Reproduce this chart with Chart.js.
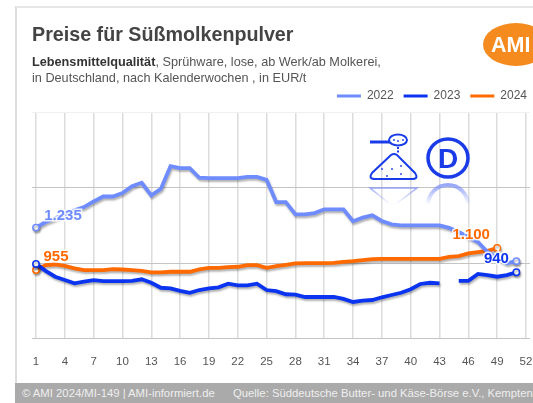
<!DOCTYPE html>
<html>
<head>
<meta charset="utf-8">
<script src="https://cdn.jsdelivr.net/npm/chart.js@4"></script>
<style>
  html, body { margin: 0; padding: 0; background: #fff; overflow: hidden; }
  #page { position: relative; width: 533px; height: 403px; overflow: hidden; font-family: "Liberation Sans", Arial, sans-serif; filter: blur(0.35px); }
  #frame { position: absolute; left: 15px; top: 6px; width: 530px; height: 400px; border-left: 2px solid #ddd; border-top: 2px solid #e6e6e6; }
  #chart { position: absolute; left: 0; top: 0; }
  #title { position: absolute; left: 32px; top: 23px; font-size: 19.7px; font-weight: bold; color: #444; white-space: nowrap; }
  #sub { position: absolute; left: 32px; top: 55px; font-size: 12.7px; line-height: 15.5px; color: #555; white-space: nowrap; }
  #sub b { color: #333; }
  #footer { position: absolute; left: 15px; top: 383px; width: 518px; height: 20px; background: #aaa; color: #eee; font-size: 11.3px; line-height: 20px; white-space: nowrap; }
  #footer span { position: absolute; top: 0; }
  #logo { position: absolute; left: 483px; top: 23px; width: 66px; height: 43px; border-radius: 50%; background: #f58a1f; }
  #logo span { position: absolute; left: 8px; top: 0; font-size: 21.5px; line-height: 44px; font-weight: bold; color: #fff; }
  #icons { position: absolute; left: 360px; top: 125px; }
</style>
</head>
<body>
<div id="page">
  <div id="frame"></div>
  <canvas id="chart" width="533" height="383"></canvas>
  <div id="title">Preise für Süßmolkenpulver</div>
  <div id="sub"><b>Lebensmittelqualität</b>, Sprühware, lose, ab Werk/ab Molkerei,<br>in Deutschland, nach Kalenderwochen , in EUR/t</div>
  <div id="logo"><span>AMI</span></div>
  <svg id="icons" width="112" height="80" viewBox="0 0 112 80">
    <defs>
      <linearGradient id="fade" x1="0" y1="0" x2="0" y2="1">
        <stop offset="0" stop-color="#7f92f5" stop-opacity="0.8"/>
        <stop offset="1" stop-color="#7f92f5" stop-opacity="0"/>
      </linearGradient>
    </defs>
    <g fill="none" stroke="#1a3ce8">
      <path d="M10 17 H30" stroke-width="3"/>
      <ellipse cx="38" cy="15" rx="9" ry="5.5" stroke-width="2"/>
      <path d="M38 22 V28" stroke-width="2" stroke-dasharray="2 1.5"/>
      <path d="M31 30 L12 48 Q8 54 15 54 H52 Q59 54 55 48 L37 30 Q34 28 31 30 Z" stroke-width="2"/>
      <ellipse cx="88" cy="33" rx="20" ry="19" stroke-width="3.5"/>
    </g>
    <g fill="#1a3ce8">
      <circle cx="34" cy="15" r="0.9"/><circle cx="38" cy="16" r="0.9"/><circle cx="43" cy="15" r="0.9"/>
      <circle cx="22" cy="44" r="0.9"/><circle cx="32" cy="44" r="0.9"/><circle cx="41" cy="41" r="0.9"/>
      <circle cx="27" cy="51" r="0.9"/><circle cx="41" cy="49" r="0.9"/>
    </g>
    <text x="88" y="43" text-anchor="middle" font-family="Liberation Sans" font-weight="bold" font-size="28" fill="#1a3ce8">D</text>
    <path d="M10 63 H57 L36 79 H30 Z" fill="none" stroke="url(#fade)" stroke-width="1.5"/>
    <path d="M68 80 A20 20 0 0 1 108 80" fill="none" stroke="url(#fade)" stroke-width="4"/>
  </svg>
  <div id="footer"><span style="left:7px">© AMI 2024/MI-149 | AMI-informiert.de</span><span style="left:218px">Quelle: Süddeutsche Butter- und Käse-Börse e.V., Kempten</span></div>
</div>
<script>
const weeks = [1,2,3,4,5,6,7,8,9,10,11,12,13,14,15,16,17,18,19,20,21,22,23,24,25,26,27,28,29,30,31,32,33,34,35,36,37,38,39,40,41,42,43,44,45,46,47,48,49,50,51,52];
const prices2022 = [1235,1272,1297,1323,1349,1371,1408,1441,1441,1463,1509,1532,1448,1492,1641,1628,1628,1565,1562,1562,1562,1562,1571,1571,1551,1404,1404,1323,1323,1331,1356,1356,1356,1277,1301,1316,1279,1257,1250,1250,1250,1250,1250,1233,1206,1173,1140,1074,1033,1000,1013,null];
const prices2023 = [995,949,910,888,866,877,888,881,881,881,883,893,870,837,833,817,804,822,833,840,864,853,853,864,822,815,794,791,776,776,776,776,763,743,752,756,774,789,804,827,862,870,866,null,883,883,929,921,910,921,940,null];
const prices2024 = [955,987,991,982,965,954,954,954,960,958,954,949,939,939,943,943,943,958,969,969,974,976,987,987,969,980,989,998,1000,1000,1000,1002,1009,1013,1020,1026,1028,1028,1028,1028,1028,1028,1028,1042,1046,1064,1073,1081,1100,null,null,null];

const color2022 = '#6f8cff';
const color2023 = '#0a34f0';
const color2024 = '#ff6a00';
const gridColor = '#dcdcdc';

// first and last point of each series get a hollow circle
function endPointRadius(ctx) {
  const vals = ctx.dataset.data;
  let last = vals.length - 1;
  while (vals[last] === null) last--;
  return ctx.dataIndex === 0 || ctx.dataIndex === last ? 3.2 : 0;
}

const lineShadow = {
  id: 'lineShadow',
  beforeDatasetDraw(chart) {
    const c = chart.ctx;
    c.save();
    c.shadowColor = 'rgba(0,0,0,0.3)';
    c.shadowBlur = 2;
    c.shadowOffsetX = 1;
    c.shadowOffsetY = 2;
  },
  afterDatasetDraw(chart) {
    chart.ctx.restore();
  }
};

// legend sits a bit further right than the plot padding allows
const legendShift = {
  id: 'legendShift',
  afterLayout(chart) {
    chart.legend.left += 7;
    chart.legend.right += 7;
  }
};

// value labels with white halo, positioned from the point of the series
const valueLabels = {
  id: 'valueLabels',
  afterDatasetsDraw(chart) {
    const c = chart.ctx;
    const items = [
      { ds: 0, i: 0, dx: 27, dy: -12, text: '1.235', color: color2022 },
      { ds: 2, i: 0, dx: 20, dy: -13, text: '955', color: color2024 },
      { ds: 2, i: 48, dx: -26, dy: -13, text: '1.100', color: color2024 },
      { ds: 1, i: 50, dx: -20, dy: -13, text: '940', color: color2023 }
    ];
    c.save();
    c.font = 'bold 15px "Liberation Sans"';
    c.textAlign = 'center';
    c.textBaseline = 'middle';
    items.forEach((it) => {
      const p = chart.getDatasetMeta(it.ds).data[it.i];
      c.lineWidth = 3;
      c.strokeStyle = 'rgba(255,255,255,0.85)';
      c.strokeText(it.text, p.x + it.dx, p.y + it.dy);
      c.fillStyle = it.color;
      c.fillText(it.text, p.x + it.dx, p.y + it.dy);
    });
    c.restore();
  }
};

function makeSeries(label, data, color) {
  return {
    label: label,
    data: data,
    borderColor: color,
    backgroundColor: color,
    borderWidth: 3.8,
    tension: 0,
    spanGaps: false,
    pointRadius: endPointRadius,
    pointBorderWidth: 1.5,
    pointBackgroundColor: '#fff',
    pointBorderColor: color
  };
}

new Chart(document.getElementById('chart'), {
  type: 'line',
  data: {
    labels: weeks,
    datasets: [
      makeSeries('2022', prices2022, color2022),
      makeSeries('2023', prices2023, color2023),
      makeSeries('2024', prices2024, color2024)
    ]
  },
  plugins: [lineShadow, legendShift, valueLabels],
  options: {
    responsive: false,
    animation: false,
    layout: { padding: { left: 32, right: 3, top: 80, bottom: 14 } },
    plugins: {
      tooltip: { enabled: false },
      legend: {
        align: 'end',
        labels: {
          boxWidth: 24,
          boxHeight: 3,
          padding: 10,
          color: '#555',
          font: { family: 'Liberation Sans', size: 12 },
          generateLabels(chart) {
            return chart.data.datasets.map((d, i) => ({
              text: d.label,
              fillStyle: d.borderColor,
              strokeStyle: d.borderColor,
              lineWidth: 0,
              fontColor: '#555',
              datasetIndex: i
            }));
          }
        }
      }
    },
    scales: {
      x: {
        offset: false,
        grid: {
          color: (ctx) => (ctx.index % 3 === 0 ? gridColor : 'transparent'),
          lineWidth: 1.5,
          tickColor: 'transparent',
          tickLength: 16.5
        },
        border: { display: false },
        ticks: {
          autoSkip: false,
          maxRotation: 0,
          padding: 0,
          color: '#555',
          font: { family: 'Liberation Sans', size: 11.5 },
          callback(v, i) { return i % 3 === 0 ? weeks[i] : ''; }
        }
      },
      y: {
        min: 500,
        max: 2000,
        ticks: { stepSize: 500, display: false },
        grid: { color: (ctx) => (ctx.tick.value === 2000 ? '#f0f0f0' : '#c4c4c4'), tickLength: 4 },
        border: { display: false },
        afterFit(s) { s.width = 4; }
      },
      yRight: {
        position: 'right',
        min: 500,
        max: 2000,
        ticks: { stepSize: 500, display: false },
        grid: { color: (ctx) => (ctx.tick.value === 2000 ? '#f0f0f0' : '#c4c4c4'), tickLength: 4, drawOnChartArea: false },
        border: { display: false },
        afterFit(s) { s.width = 4; }
      }
    }
  }
});
</script>
</body>
</html>
